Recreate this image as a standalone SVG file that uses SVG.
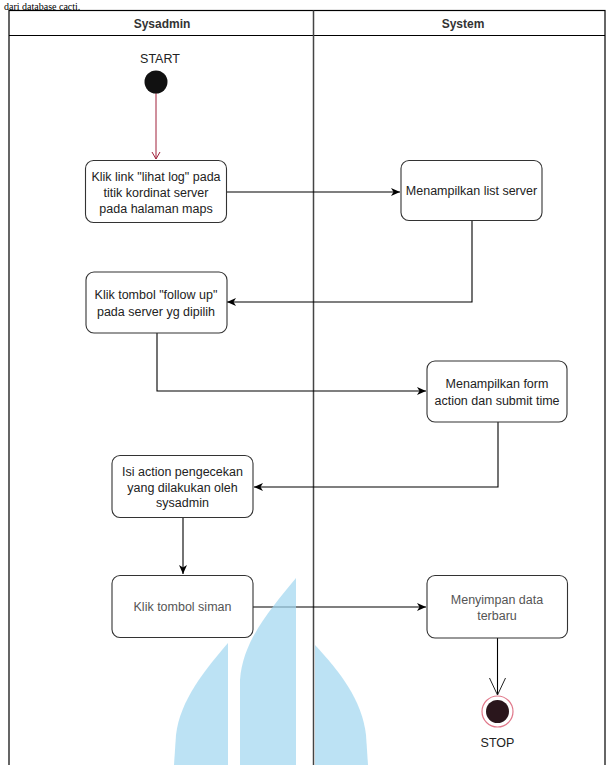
<svg xmlns="http://www.w3.org/2000/svg" width="607" height="765" viewBox="0 0 607 765">
<style>
.box{fill:#fff;stroke:#333;stroke-width:1.1}
.t{font-family:"Liberation Sans",Arial,sans-serif;font-size:12.5px;fill:#222;text-anchor:middle}
.tg{fill:#555}
.hd{font-family:"Liberation Sans",Arial,sans-serif;font-size:12px;font-weight:bold;fill:#333;text-anchor:middle}
.ln{fill:none;stroke:#000;stroke-width:1.1}
.wm{fill:#9fd6ef;opacity:0.7}
</style>
<defs>
<marker id="arr" markerWidth="10" markerHeight="10" refX="9" refY="5" orient="auto" markerUnits="userSpaceOnUse">
<path d="M0,1 L9,5 L0,9 L2.5,5 z" fill="#000"/>
</marker>
<marker id="openRed" markerWidth="12" markerHeight="12" refX="6" refY="10" orient="0" markerUnits="userSpaceOnUse">
<path d="M2,3 L6,10 L10,3" fill="none" stroke="#a0203a" stroke-width="1"/>
</marker>
<marker id="openV" markerWidth="20" markerHeight="20" refX="10" refY="18" orient="0" markerUnits="userSpaceOnUse">
<path d="M2,1 L10,18 L18,1" fill="none" stroke="#222" stroke-width="1"/>
</marker>
</defs>
<rect width="607" height="765" fill="#fff"/>
<text x="4" y="9.5" font-family="Liberation Serif,Times New Roman,serif" font-size="10" fill="#000">dari database cacti.</text>
<g id="lanes">
<rect x="9" y="10.5" width="596" height="760" fill="none" stroke="#000" stroke-width="1.2"/>
<line x1="9" y1="35.5" x2="605" y2="35.5" stroke="#000" stroke-width="1.2"/>
<line x1="313.5" y1="10.5" x2="313.5" y2="765" stroke="#444" stroke-width="1.5"/>
<text class="hd" x="162" y="28">Sysadmin</text>
<text class="hd" x="463" y="28">System</text>
</g>
<g id="connectors">
<line x1="156" y1="93" x2="156" y2="159" stroke="#a0203a" stroke-width="1" marker-end="url(#openRed)"/>
<path class="ln" d="M227,192 L400,192" marker-end="url(#arr)"/>
<path class="ln" d="M472,221 L472,302 L227,302" marker-end="url(#arr)"/>
<path class="ln" d="M157,333 L157,391 L426,391" marker-end="url(#arr)"/>
<path class="ln" d="M498,422 L498,487 L254,487" marker-end="url(#arr)"/>
<path class="ln" d="M183,517 L183,574" marker-end="url(#arr)"/>
<path class="ln" d="M253,607 L426,607" marker-end="url(#arr)"/>
<path class="ln" d="M497.5,638 L497.5,695" marker-end="url(#openV)"/>
</g>
<g id="start">
<text class="t" x="160" y="63">START</text>
<circle cx="156" cy="82" r="11.5" fill="#111"/>
</g>
<g id="n1">
<rect class="box" x="85.5" y="160.5" width="141" height="62" rx="8"/>
<text class="t" x="156" y="181">Klik link "lihat log" pada</text>
<text class="t" x="156" y="197">titik kordinat server</text>
<text class="t" x="156" y="213">pada halaman maps</text>
</g>
<g id="n2">
<rect class="box" x="401" y="160.5" width="141" height="60" rx="8"/>
<text class="t" x="471.5" y="195">Menampilkan list server</text>
</g>
<g id="n3">
<rect class="box" x="86" y="272" width="141" height="61" rx="8"/>
<text class="t" x="156" y="299">Klik tombol "follow up"</text>
<text class="t" x="156" y="316">pada  server yg dipilih</text>
</g>
<g id="n4">
<rect class="box" x="427" y="361" width="140" height="61" rx="8"/>
<text class="t" x="497" y="387.5">Menampilkan form</text>
<text class="t" x="497" y="405">action dan submit time</text>
</g>
<g id="n5">
<rect class="box" x="112" y="455.5" width="141" height="62" rx="8"/>
<text class="t" x="182.5" y="476">Isi action pengecekan</text>
<text class="t" x="182.5" y="491.5">yang dilakukan oleh</text>
<text class="t" x="182.5" y="507">sysadmin</text>
</g>
<g id="n6">
<rect class="box" x="112" y="575.5" width="141" height="62" rx="8"/>
<text class="t tg" x="182.5" y="611">Klik tombol siman</text>
</g>
<g id="n7">
<rect class="box" x="427" y="575.5" width="140.5" height="62.5" rx="8"/>
<text class="t tg" x="497" y="604">Menyimpan data</text>
<text class="t tg" x="497" y="619.5">terbaru</text>
</g>
<g id="stop">
<circle cx="497.5" cy="711.5" r="15.5" fill="#fff" stroke="#e0788a" stroke-width="1.2"/>
<circle cx="497.5" cy="711.5" r="11.5" fill="#2a161c"/>
<text class="t" x="497.5" y="747">STOP</text>
</g>
<g id="watermark">
<path class="wm" d="M228,643 C205,670 180,700 176,735 L174,765 L228,765 Z"/>
<path class="wm" d="M296,578 C270,610 243,640 240,680 L240,765 L296,765 Z"/>
<path class="wm" d="M315,645 C340,672 362,700 366,735 L368,765 L315,765 Z"/>
</g>
</svg>
